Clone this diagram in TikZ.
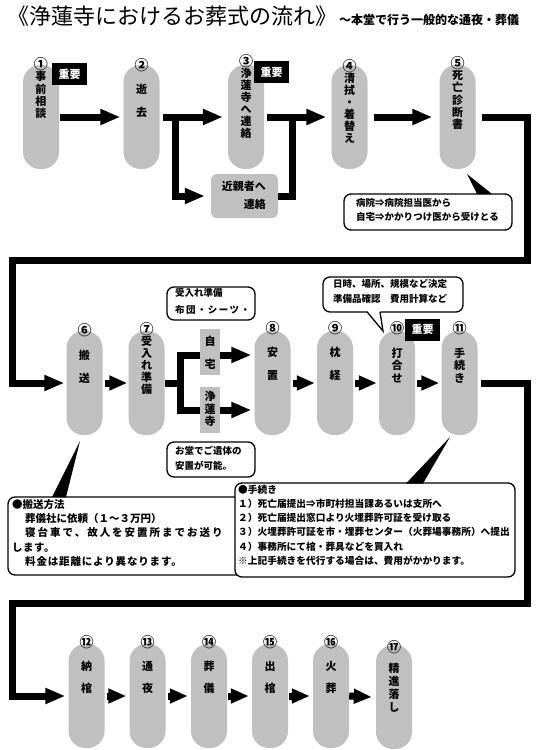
\documentclass[tikz,border=0pt]{standalone}
\usepackage{fontspec}
\setmainfont{Noto Sans CJK JP}
\newfontfamily\jp{Noto Sans CJK JP}
\usetikzlibrary{arrows.meta}
\definecolor{boxgray}{RGB}{192,192,192}
\newcommand\circnum[1]{\smash{\raisebox{-1.1pt}{\fontsize{14}{12}\selectfont #1}}}
\begin{document}
\begin{tikzpicture}[x=1pt,y=-1pt,line join=miter,
  stepbox/.style={fill=boxgray,rounded corners=17pt,minimum width=36pt,minimum height=104pt,inner sep=0pt},
  smallbox/.style={fill=boxgray,minimum width=20pt,minimum height=46pt,inner sep=0pt},
  kinbox/.style={fill=boxgray,rounded corners=6pt,minimum width=67pt,minimum height=44pt,inner sep=0pt},
  lbl/.style={anchor=north,inner sep=0pt,align=center,execute at begin node={\rule{0pt}{10pt}},font=\jp\bfseries\fontsize{11}{12.3}\selectfont},
  flow/.style={line width=7pt,-{Triangle[length=20pt,width=15pt]}},
  flowline/.style={line width=7pt},
  sflow/.style={line width=7pt,-{Triangle[length=18pt,width=14pt]}},
  badge/.style={fill=black,text=white,minimum width=35pt,minimum height=22pt,inner sep=0pt,font=\jp\bfseries\fontsize{11}{11}\selectfont},
  cbox/.style={draw=black,line width=1.3pt,fill=white,rounded corners=7pt,inner sep=0pt},
  ctext/.style={anchor=north west,inner sep=0pt,align=left,execute at begin node={\rule{0pt}{10pt}}},
]
\fill[white] (0,0) rectangle (539,750);
\useasboundingbox (0,0) rectangle (539,750);

% title
\node[anchor=west,inner sep=0pt,font=\jp\fontsize{22}{22}\selectfont] (title) at (7,16) {《浄蓮寺におけるお葬式の流れ》};
\node[anchor=west,inner sep=0pt,font=\jp\bfseries\fontsize{12}{12}\selectfont] (subtitle) at (339,20) {～本堂で行う一般的な通夜・葬儀};

% row 1 boxes
\node[stepbox] (b1) at (41,117) {};
\node[stepbox] (b2) at (141.5,117) {};
\node[stepbox] (b3) at (246,117) {};
\node[stepbox] (b4) at (349.5,117) {};
\node[stepbox] (b5) at (457.5,117) {};
\node[kinbox] (kin) at (244.5,196) {};

% row 2 boxes
\node[stepbox] (b6) at (84.5,383) {};
\node[stepbox] (b7) at (146.5,383) {};
\node[stepbox] (b8) at (272.5,383) {};
\node[stepbox] (b9) at (335,383) {};
\node[stepbox] (b10) at (397,383) {};
\node[stepbox] (b11) at (459.5,383) {};

% row 3 boxes
\node[stepbox] (b12) at (86.5,696) {};
\node[stepbox] (b13) at (147.5,696) {};
\node[stepbox] (b14) at (209,696) {};
\node[stepbox] (b15) at (270,696) {};
\node[stepbox] (b16) at (331,696) {};
\node[stepbox] (b17) at (394,697) {};

% labels
\node[lbl] (t1) at (41,68.2) {\circnum{①}\\事\\前\\相\\談};
\node[lbl] (t2) at (141.5,69.2) {\circnum{②}\\[12pt]逝\\[10pt]去};
\node[lbl,font=\jp\bfseries\fontsize{11}{12}\selectfont] (t3) at (246,65.2) {\circnum{③}\\浄\\蓮\\寺\\へ\\連\\絡};
\node[lbl,font=\jp\bfseries\fontsize{11}{12}\selectfont] (t4) at (349.5,70.2) {\circnum{④}\\清\\拭\\・\\着\\替\\え};
\node[lbl,font=\jp\bfseries\fontsize{11}{12.2}\selectfont] (t5) at (457.5,67.2) {\circnum{⑤}\\死\\亡\\診\\断\\書};
\node[lbl,anchor=north east,align=right,font=\jp\bfseries\fontsize{11}{18}\selectfont] (tkin) at (266,181.2) {近親者へ\\連絡};

\node[lbl] (t6) at (84.5,334.2) {\circnum{⑥}\\[12.5pt]搬\\[10.5pt]送};
\node[lbl,font=\jp\bfseries\fontsize{11}{12}\selectfont] (t7) at (146.5,333.2) {\circnum{⑦}\\受\\入\\れ\\準\\備};
\node[lbl] (t8) at (272.5,332.2) {\circnum{⑧}\\[11.7pt]安\\[10.7pt]置};
\node[lbl] (t9) at (335,332.2) {\circnum{⑨}\\[11.7pt]枕\\[10.7pt]経};
\node[lbl] (t10) at (397,332.2) {\circnum{⑩}\\[12.7pt]打\\合\\せ};
\node[lbl] (t11) at (459.5,332.2) {\circnum{⑪}\\[12.7pt]手\\続\\き};

\node[lbl] (t12) at (86.5,646.2) {\circnum{⑫}\\[11.7pt]納\\[9.7pt]棺};
\node[lbl] (t13) at (147.5,646.2) {\circnum{⑬}\\[11.7pt]通\\[9.7pt]夜};
\node[lbl] (t14) at (209,646.2) {\circnum{⑭}\\[11.7pt]葬\\[9.7pt]儀};
\node[lbl] (t15) at (270,646.2) {\circnum{⑮}\\[11.7pt]出\\[9.7pt]棺};
\node[lbl] (t16) at (331,646.2) {\circnum{⑯}\\[11.7pt]火\\[9.7pt]葬};
\node[lbl,font=\jp\bfseries\fontsize{11}{13}\selectfont] (t17) at (394,651.2) {\circnum{⑰}\\[8pt]精\\進\\落\\し};

% row 1 connectors
\draw[flow] ([xshift=1pt]b1.east) -- ([xshift=-3pt]b2.west);
\draw[flow] ([xshift=3pt]b2.east) -- ([xshift=-5pt]b3.west);
\coordinate (j1) at (175,117);
\draw[flow] (j1) |- ([xshift=-6pt]kin.west);
\coordinate (j2) at (292,117);
\draw[flowline] (kin.east) -| (j2);
\draw[flow] ([xshift=3pt]b3.east) -- ([xshift=-5pt]b4.west);
\draw[flow] ([xshift=6pt]b4.east) -- ([xshift=-7pt]b5.west);
\coordinate (r1) at (527,117);
\coordinate (r2) at (527,260);
\coordinate (l1) at (12,260);
\draw[flow] ([xshift=6pt]b5.east) -- (r1) -- (r2) -- (l1) |- ([xshift=-2pt]b6.west);

% row 2 connectors
\draw[sflow] ([xshift=2pt]b6.east) -- ([xshift=-1pt]b7.west);
\coordinate (j3) at (180,383);
\coordinate (j4) at (180,355);
\coordinate (j5) at (180,410);
\draw[flowline] (b7.east) -- (j3);
\draw[line width=7pt,{Triangle[length=20pt,width=15pt]}-{Triangle[length=20pt,width=15pt]},shorten <=3pt,shorten >=3pt] (j4 -| b8.west) -- (j4) -- (j5) -- (j5 -| b8.west);
\node[smallbox] (jitaku) at (210,352) {};
\node[smallbox] (jtemple) at (210,410) {};
\node[lbl] (tjitaku) at (210,336.2) {自\\[10.7pt]宅};
\node[lbl,font=\jp\bfseries\fontsize{11}{12.5}\selectfont] (tjtemple) at (210,391.2) {浄\\蓮\\寺};
\draw[sflow] ([xshift=2pt]b8.east) -- ([xshift=-2pt]b9.west);
\draw[sflow] ([xshift=2pt]b9.east) -- ([xshift=-2pt]b10.west);
\draw[sflow] ([xshift=2pt]b10.east) -- ([xshift=-2pt]b11.west);
\coordinate (r3) at (527,383);
\coordinate (r4) at (527,603);
\coordinate (l2) at (12,603);
\draw[flow] ([xshift=3pt]b11.east) -- (r3) -- (r4) -- (l2) |- ([xshift=-3pt]b12.west);

% row 3 connectors
\draw[sflow] ([xshift=2pt]b12.east) -- ([xshift=-3pt]b13.west);
\draw[sflow] ([xshift=2pt]b13.east) -- ([xshift=-3pt]b14.west);
\draw[sflow] ([xshift=1pt]b14.east) -- ([xshift=-3pt]b15.west);
\draw[sflow] ([xshift=1pt]b15.east) -- ([xshift=-3pt]b16.west);
\draw[sflow] ([xshift=0pt]b16.east) -- ([xshift=-4pt]b17.west);

% badges
\node[badge] (bd1) at (69.5,74) {重要};
\node[badge] (bd3) at (271.5,72) {重要};
\node[badge] (bd10) at (422.5,329.5) {重要};

% callouts
\node[cbox,minimum width=168pt,minimum height=36pt] (cHosp) at (428,212) {};
\fill (467,174) -- (477,194) -- (492,194) -- cycle;
\node[ctext,font=\jp\bfseries\fontsize{9.5}{14}\selectfont] (cHospT) at (356,198.6) {病院⇒病院担当医から\\自宅⇒かかりつけ医から受けとる};

\node[cbox,minimum width=88pt,minimum height=33pt] (cUke) at (211,303.5) {};
\node[ctext,font=\jp\bfseries\fontsize{9.5}{17}\selectfont] (cUkeT) at (175,288.6) {受入れ準備\\{\addfontfeature{LetterSpace=15}布団・シーツ・}};

\node[cbox,minimum width=88pt,minimum height=35pt] (cOdo) at (211,459.5) {};
\node[ctext,font=\jp\bfseries\fontsize{9.5}{15}\selectfont] (cOdoT) at (175,445.6) {お堂でご遺体の\\安置が可能。};

\node[cbox,minimum width=140pt,minimum height=35pt] (cUchi) at (393,294.5) {};
\fill[white] (366.5,310.5) -- (383,331) -- (380.5,310.5) -- cycle;
\draw[line width=1.3pt] (367,311.8) -- (383,331) -- (380,311.8);
\node[ctext,font=\jp\bfseries\fontsize{9.5}{15}\selectfont] (cUchiT) at (333,279.6) {日時、場所、規模など決定\\準備品確認　費用計算など};

\node[cbox,minimum width=249pt,minimum height=78pt] (cHan) at (132.5,536) {};
\fill (80,441) -- (52,497) -- (66,497) -- cycle;
\node[ctext,font=\jp\bfseries\fontsize{10.5}{14.3}\selectfont] (cHanT) at (12,499) {●搬送方法\\\hspace*{13pt}葬儀社に依頼（１～３万円）\\\hspace*{13pt}{\addfontfeature{LetterSpace=19}寝台車で、故人を安置所までお送り}\\{\addfontfeature{LetterSpace=5}します。}\\\hspace*{13pt}{\addfontfeature{LetterSpace=8}料金は距離により異なります。}};

\node[cbox,minimum width=280pt,minimum height=94pt] (cTetsu) at (375,530) {};
\fill (450,437) -- (406,483.5) -- (423,483.5) -- cycle;
\node[ctext,font=\jp\bfseries\fontsize{9.7}{14.2}\selectfont] (cTetsuT) at (238,484.7) {●手続き\\１）死亡届提出⇒市町村担当課あるいは支所へ\\２）死亡届提出窓口より火埋葬許可証を受け取る\\３）火埋葬許可証を市・埋葬センター（火葬場事務所）へ提出\\４）事務所にて棺・葬具などを買入れ\\※上記手続きを代行する場合は、費用がかかります。};
\end{tikzpicture}
\end{document}
